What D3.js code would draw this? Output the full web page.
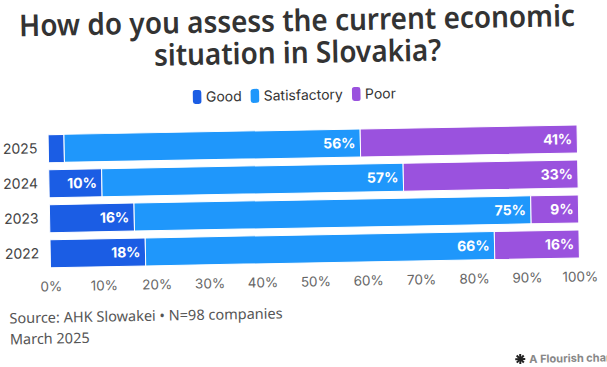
<!DOCTYPE html>
<html>
<head>
<meta charset="utf-8">
<script src="https://cdn.jsdelivr.net/npm/d3@7"></script>
<style>
  html, body { margin: 0; padding: 0; background: #fff; }
  svg { display: block; }
</style>
</head>
<body>
<div id="chart"></div>
<script>
const years = ["2025", "2024", "2023", "2022"];
const good = [3, 10, 16, 18];
const satisfactory = [56, 57, 75, 66];
const poor = [41, 33, 9, 16];
const seriesNames = ["Good", "Satisfactory", "Poor"];
const seriesColors = ["#1b5de4", "#1f97fb", "#9a52de"];
const xTicks = [0, 10, 20, 30, 40, 50, 60, 70, 80, 90, 100];
const titleLines = ["How do you assess the current economic", "situation in Slovakia?"];

const width = 607;
const height = 367;

const rows = years.map((y, i) => ({
  year: y, Good: good[i], Satisfactory: satisfactory[i], Poor: poor[i]
}));

const svg = d3.select("#chart").append("svg")
  .attr("width", width)
  .attr("height", height);

svg.append("rect").attr("width", width).attr("height", height).attr("fill", "#fff");

// the reference is a slightly tilted screenshot
const root = svg.append("g").attr("transform", "rotate(-1.05, 303, 183)");

// title, squeezed a bit to mimic the narrower original typeface
const titleSpans = root.append("g")
  .attr("fill", "#333")
  .style("font-family", "'Noto Sans', sans-serif")
  .style("font-weight", 600)
  .style("font-size", "30px")
  .selectAll("text")
  .data(titleLines)
  .enter().append("text")
  .attr("x", 300)
  .attr("y", (d, i) => 31 + i * 32)
  .attr("text-anchor", "middle")
  .text(d => d);
const natural = titleSpans.nodes()[0].getComputedTextLength();
const squeeze = 556 / natural;
titleSpans.each(function () {
  const len = this.getComputedTextLength() * squeeze;
  d3.select(this).attr("textLength", len).attr("lengthAdjust", "spacingAndGlyphs");
});

// legend
const legend = root.append("g");
let lx = 0;
const items = legend.selectAll("g").data(seriesNames).enter().append("g");
items.append("rect")
  .attr("y", -7).attr("width", 8.5).attr("height", 14).attr("rx", 2.5)
  .attr("fill", (d, i) => seriesColors[i]);
items.append("text")
  .attr("x", 13).attr("y", 5)
  .attr("fill", "#333")
  .style("font-family", "Inter, sans-serif")
  .style("font-size", "14px")
  .text(d => d);
items.each(function () {
  const w = this.getBBox().width;
  d3.select(this).attr("transform", `translate(${lx},0)`);
  lx += w + 9;
});
legend.attr("transform", `translate(${296 - (lx - 9) / 2}, 95)`);

// chart
const x = d3.scaleLinear().domain([0, 100]).range([49, 578]);
const y = d3.scaleBand().domain(years).range([130, 263]).paddingInner(0.2).paddingOuter(0);

const stack = d3.stack().keys(seriesNames)(rows);

const layers = root.append("g").selectAll("g")
  .data(stack)
  .enter().append("g")
  .attr("fill", (d, i) => seriesColors[i]);

layers.selectAll("rect")
  .data(d => d)
  .enter().append("rect")
  .attr("x", d => x(d[0]))
  .attr("y", d => y(d.data.year))
  .attr("width", d => x(d[1]) - x(d[0]))
  .attr("height", y.bandwidth())
  .attr("stroke", "#fff")
  .attr("stroke-width", 1);

layers.selectAll("text")
  .data(d => d.filter(v => x(v[1]) - x(v[0]) > 30))
  .enter().append("text")
  .attr("x", d => x(d[1]) - 5)
  .attr("y", d => y(d.data.year) + y.bandwidth() / 2 + 5)
  .attr("text-anchor", "end")
  .attr("fill", "#fff")
  .style("font-family", "Inter, sans-serif")
  .style("font-weight", 700)
  .style("font-size", "14px")
  .text(d => (d[1] - d[0]) + "%");

// axes
const xAxis = root.append("g")
  .attr("transform", "translate(0, 274)")
  .call(d3.axisBottom(x).tickValues(xTicks).tickSize(0).tickFormat(d => d + "%"));
xAxis.select(".domain").remove();
xAxis.selectAll("text")
  .attr("fill", "#666")
  .style("font-family", "Inter, sans-serif")
  .style("font-size", "13.5px");

const yAxis = root.append("g")
  .attr("transform", "translate(49, 0)")
  .call(d3.axisLeft(y).tickSize(0).tickPadding(11));
yAxis.select(".domain").remove();
yAxis.selectAll("text")
  .attr("fill", "#444")
  .style("font-family", "Inter, sans-serif")
  .style("font-size", "14px");

// footer
const foot = root.append("g")
  .attr("fill", "#555")
  .style("font-family", "'Noto Sans', sans-serif")
  .style("font-size", "14.5px");
foot.append("text").attr("x", 7).attr("y", 318).text("Source: AHK Slowakei \u2022 N=98 companies");
foot.append("text").attr("x", 7).attr("y", 339).text("March 2025");

// flourish credit
const credit = root.append("g").attr("transform", "translate(517, 363)");
[0, 45, 90, 135].forEach(a => {
  credit.append("line")
    .attr("x1", -5).attr("x2", 5)
    .attr("transform", `rotate(${a})`)
    .attr("stroke", "#222").attr("stroke-width", 2);
});
credit.append("text")
  .attr("x", 9).attr("y", 4)
  .attr("fill", "#888")
  .style("font-family", "Inter, sans-serif")
  .style("font-weight", 700)
  .style("font-size", "11px")
  .text("A Flourish chart");
</script>
</body>
</html>
